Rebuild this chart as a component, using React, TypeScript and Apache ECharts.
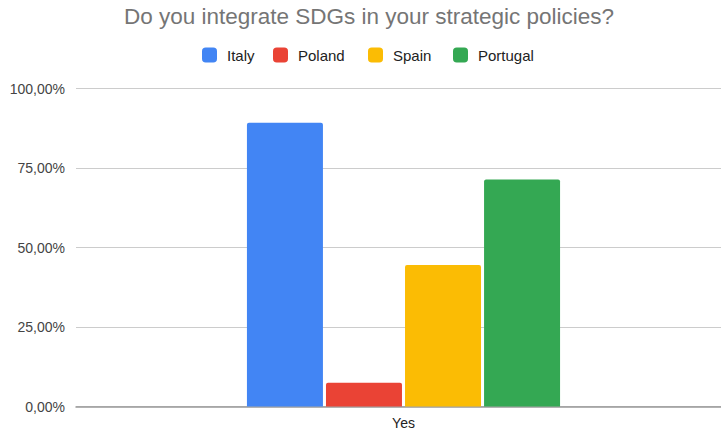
import React, { useEffect, useRef } from "react";
import * as echarts from "echarts";

const categories = ["Yes"];
const seriesNames = ["Italy", "Poland", "Spain", "Portugal"];
const italy = [89.2];
const poland = [7.5];
const spain = [44.5];
const portugal = [71.4];
const colors = ["#4285F4", "#EA4335", "#FBBC04", "#34A853"];
const legendLefts = [202, 273, 368, 453];

const FONT = "Liberation Sans, Arial, sans-serif";

export default function App() {
  const ref = useRef<HTMLDivElement>(null);
  useEffect(() => {
    if (!ref.current) return;
    const chart = echarts.init(ref.current, null, { renderer: "svg" });
    const values = [italy, poland, spain, portugal];
    chart.setOption({
      animation: false,
      backgroundColor: "#ffffff",
      title: {
        text: "Do you integrate SDGs in your strategic policies?",
        left: 369,
        textAlign: "center",
        top: 5,
        padding: 0,
        textStyle: { fontFamily: FONT, fontSize: 22.5, fontWeight: "normal", color: "#757575" },
      },
      legend: seriesNames.map((name, i) => ({
        top: 47.5,
        left: legendLefts[i],
        padding: 0,
        itemWidth: 15,
        itemHeight: 15,
        icon: "roundRect",
        textStyle: { fontFamily: FONT, fontSize: 15, color: "#222222", padding: [0, 0, 0, 5] },
        data: [name],
      })),
      grid: { left: 76, right: 0, top: 88.5, bottom: 24.5, containLabel: false },
      xAxis: {
        type: "category",
        data: categories,
        axisTick: { show: false },
        axisLine: { show: true, lineStyle: { color: "#999999", width: 1.5 } },
        axisLabel: { fontFamily: FONT, fontSize: 14, color: "#222222", margin: 9 },
      },
      yAxis: {
        type: "value",
        min: 0,
        max: 100,
        interval: 25,
        axisLine: { show: false },
        axisTick: { show: false },
        splitLine: { lineStyle: { color: "#cccccc", width: 1 } },
        axisLabel: {
          fontFamily: FONT,
          fontSize: 14,
          color: "#444444",
          margin: 11,
          formatter: (v: number) => v.toFixed(2).replace(".", ",") + "%",
        },
      },
      series: seriesNames.map((name, i) => ({
        name,
        type: "bar",
        data: values[i],
        barWidth: 76,
        barGap: "4%",
        itemStyle: { color: colors[i], borderRadius: [2, 2, 0, 0] },
      })),
    });
    return () => chart.dispose();
  }, []);
  return (
    <div
      style={{
        position: "absolute",
        left: 0,
        top: 0,
        width: 721,
        height: 431,
        overflow: "hidden",
        background: "#ffffff",
      }}
    >
      <div ref={ref} style={{ width: 731, height: 431 }} />
    </div>
  );
}
